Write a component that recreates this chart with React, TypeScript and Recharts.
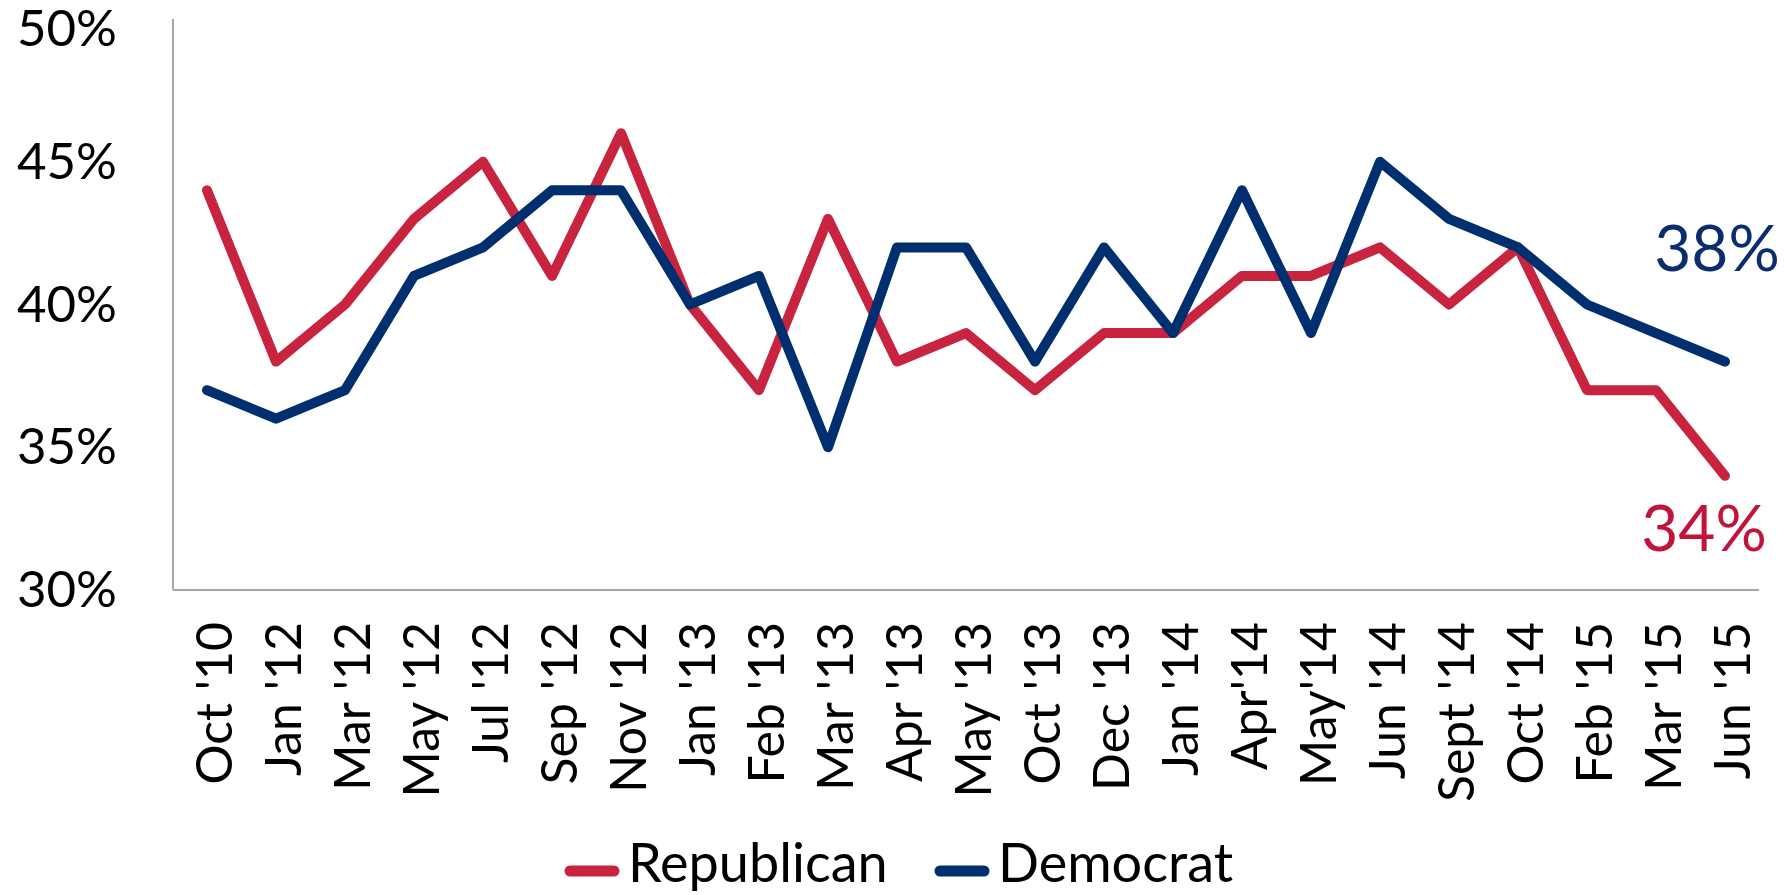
import { LineChart, Line, XAxis, YAxis, Legend } from 'recharts'

// survey waves
const months = [
  "Oct '10", "Jan '12", "Mar '12", "May '12", "Jul '12", "Sep '12", "Nov '12",
  "Jan '13", "Feb '13", "Mar '13", "Apr '13", "May '13", "Oct '13", "Dec '13",
  "Jan '14", "Apr'14", "May'14", "Jun '14", "Sept '14", "Oct '14", "Feb '15",
  "Mar '15", "Jun '15",
]
const republican = [44, 38, 40, 43, 45, 41, 46, 40, 37, 43, 38, 39, 37, 39, 39, 41, 41, 42, 40, 42, 37, 37, 34]
const democrat = [37, 36, 37, 41, 42, 44, 44, 40, 41, 35, 42, 42, 38, 42, 39, 44, 39, 45, 43, 42, 40, 39, 38]
const yTicks = [30, 35, 40, 45, 50]

const RED = '#C8233F'
const NAVY = '#002F6F'
const FONT = 'Lato, "Open Sans", sans-serif'

const data = months.map((month, i) => ({
  month,
  republican: republican[i],
  democrat: democrat[i],
}))

const last = months.length - 1

const XTick = ({ x, y, payload }: any) => (
  <text
    transform={`translate(${x},${y}) rotate(-90)`}
    y={6}
    textAnchor="end"
    dominantBaseline="central"
    fontFamily={FONT}
    fontSize={50}
    fill="#000"
  >
    {payload.value}
  </text>
)

const endLabel = (values: number[], color: string, dx: number, dy: number) => (props: any) => {
  if (props.index !== last) return null
  return (
    <text
      x={props.x + dx}
      y={props.y + dy}
      textAnchor="middle"
      dominantBaseline="central"
      fontFamily={FONT}
      fontSize={64}
      fill={color}
    >
      {values[last]}%
    </text>
  )
}

const LegendSwatch = ({ color }: { color: string }) => (
  <svg width={56} height={14} style={{ display: 'block' }}>
    <line x1={6} y1={7} x2={50} y2={7} stroke={color} strokeWidth={11} strokeLinecap="round" />
  </svg>
)

const renderLegend = () => (
  <div style={{ position: 'relative', height: 50, fontFamily: FONT, fontSize: 54, color: '#000' }}>
    <div style={{ position: 'absolute', left: 564, top: 19 }}><LegendSwatch color={RED} /></div>
    <div style={{ position: 'absolute', left: 628, top: -8, lineHeight: '50px' }}>Republican</div>
    <div style={{ position: 'absolute', left: 934, top: 19 }}><LegendSwatch color={NAVY} /></div>
    <div style={{ position: 'absolute', left: 998, top: -8, lineHeight: '50px' }}>Democrat</div>
  </div>
)

export default function App() {
  return (
    <div style={{ position: 'absolute', left: 0, top: 0, background: '#fff' }}>
      <LineChart
        width={1785}
        height={895}
        data={data}
        margin={{ top: 19, right: 26, left: 0, bottom: 0 }}
      >
        <XAxis
          dataKey="month"
          interval={0}
          padding={{ left: 34, right: 34 }}
          height={255}
          tickLine={false}
          tickSize={0}
          tickMargin={32}
          axisLine={{ stroke: '#A6A6A6', strokeWidth: 2 }}
          tick={<XTick />}
        />
        <YAxis
          domain={[30, 50]}
          ticks={yTicks}
          width={173}
          tickLine={false}
          tickSize={0}
          tickMargin={56}
          axisLine={{ stroke: '#A6A6A6', strokeWidth: 2 }}
          tickFormatter={(v) => `${v}%`}
          tick={{ fontFamily: FONT, fontSize: 51, fill: '#000', dy: -1 }}
        />
        <Legend
          verticalAlign="bottom"
          height={50}
          wrapperStyle={{ left: 0, width: 1785 }}
          content={renderLegend}
        />
        <Line
          type="linear"
          dataKey="republican"
          name="Republican"
          stroke={RED}
          strokeWidth={10}
          strokeLinecap="round"
          strokeLinejoin="round"
          dot={false}
          activeDot={false}
          isAnimationActive={false}
          label={endLabel(republican, '#C0143C', -21, 51)}
        />
        <Line
          type="linear"
          dataKey="democrat"
          name="Democrat"
          stroke={NAVY}
          strokeWidth={10}
          strokeLinecap="round"
          strokeLinejoin="round"
          dot={false}
          activeDot={false}
          isAnimationActive={false}
          label={endLabel(democrat, '#0B2C6D', -8, -115)}
        />
      </LineChart>
    </div>
  )
}
